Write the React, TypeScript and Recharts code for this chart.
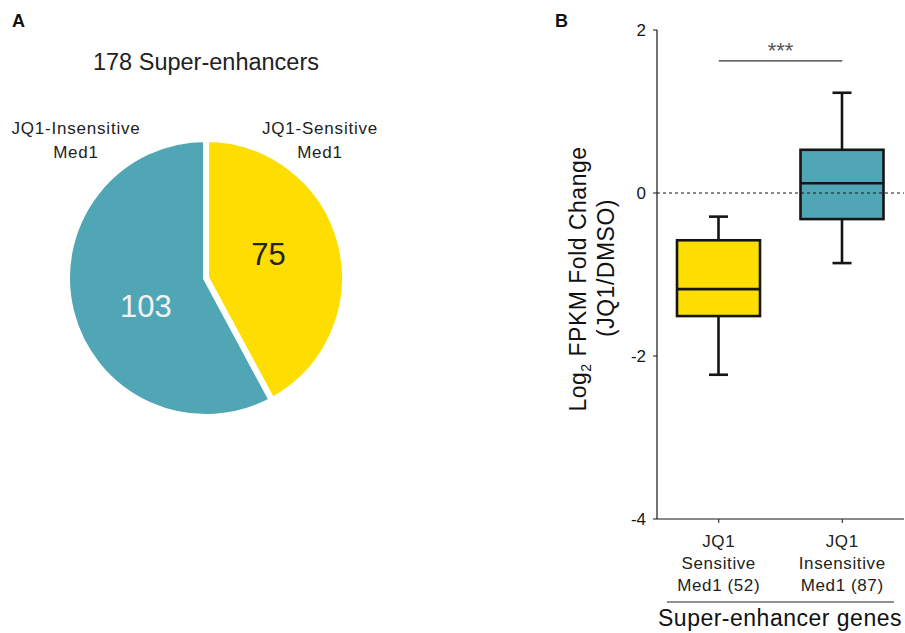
import React from 'react';
import { PieChart, Pie, Cell, ComposedChart, Bar, XAxis, YAxis, ReferenceLine } from 'recharts';

// Panel A: super-enhancer counts
const pieNames = ['JQ1-Sensitive Med1', 'JQ1-Insensitive Med1'];
const pieCounts = [75, 103];
const pieColors = ['#FEDD00', '#50A6B5'];
const pieLabelColors = ['#222222', '#f2f2f2'];
// nudge of each count label away from the slice's mid angle (degrees)
const pieLabelTurn = [6.5, 11.5];

// Panel B: log2 fold change distribution per gene group
const groupNames = ['JQ1 Sensitive Med1 (52)', 'JQ1 Insensitive Med1 (87)'];
const groupTickLines = [
  ['JQ1', 'Sensitive', 'Med1 (52)'],
  ['JQ1', 'Insensitive', 'Med1 (87)'],
];
const whiskerLow = [-2.23, -0.86];
const quartile1 = [-1.51, -0.32];
const medians = [-1.18, 0.12];
const quartile3 = [-0.58, 0.53];
const whiskerHigh = [-0.29, 1.23];
const boxColors = ['#FEDD00', '#50A6B5'];
const yTicks = [-4, -2, 0, 2];
const significanceLevel = 1.62;

const FONT = '"Liberation Sans", Arial, Helvetica, sans-serif';
const INK = '#151515';

const pieData = pieNames.map((name, i) => ({ name, value: pieCounts[i] }));

const boxData = groupNames.map((name, i) => ({
  name,
  range: [quartile1[i], quartile3[i]],
  lo: whiskerLow[i],
  q1: quartile1[i],
  med: medians[i],
  q3: quartile3[i],
  hi: whiskerHigh[i],
  color: boxColors[i],
}));

const RADIAN = Math.PI / 180;

const renderPieLabel = (props: any) => {
  const { cx, cy, midAngle, outerRadius, index, value } = props;
  const r = outerRadius * 0.48;
  const a = (midAngle + pieLabelTurn[index]) * RADIAN;
  const x = cx + r * Math.cos(-a);
  const y = cy + r * Math.sin(-a);
  return (
    <text
      x={x}
      y={y}
      textAnchor="middle"
      dominantBaseline="central"
      fontSize={31}
      fontFamily={FONT}
      fill={pieLabelColors[index]}
    >
      {value}
    </text>
  );
};

// draws whiskers, box and median using the bar's own pixel scale
const BoxShape = (props: any) => {
  const { x, y, width, height, payload } = props;
  const top = Math.min(y, y + height);
  const h = Math.abs(height);
  const perUnit = h / (payload.q3 - payload.q1);
  const toY = (v: number) => top + (payload.q3 - v) * perUnit;
  const cx = x + width / 2;
  const cap = 9.5;
  const sw = 2.6;
  return (
    <g>
      <line x1={cx} x2={cx} y1={toY(payload.hi)} y2={top} stroke={INK} strokeWidth={sw} />
      <line x1={cx} x2={cx} y1={top + h} y2={toY(payload.lo)} stroke={INK} strokeWidth={sw} />
      <line x1={cx - cap} x2={cx + cap} y1={toY(payload.hi)} y2={toY(payload.hi)} stroke={INK} strokeWidth={sw} />
      <line x1={cx - cap} x2={cx + cap} y1={toY(payload.lo)} y2={toY(payload.lo)} stroke={INK} strokeWidth={sw} />
      <rect x={x} y={top} width={width} height={h} fill={payload.color} stroke={INK} strokeWidth={sw} />
      <line x1={x} x2={x + width} y1={toY(payload.med)} y2={toY(payload.med)} stroke={INK} strokeWidth={sw} />
    </g>
  );
};

const GroupTick = (props: any) => {
  const { x, y, payload } = props;
  const idx = groupNames.indexOf(payload.value);
  const lines = groupTickLines[idx] || [];
  return (
    <text x={x} y={y} textAnchor="middle" fontSize={17} letterSpacing={0.6} fontFamily={FONT} fill="#222">
      {lines.map((l, i) => (
        <tspan key={i} x={x} dy={i === 0 ? 24 : 22}>
          {l}
        </tspan>
      ))}
    </text>
  );
};

export default function App() {
  return (
    <div style={{ position: 'absolute', left: 0, top: 0, width: 905, height: 633, background: '#fff', fontFamily: FONT }}>
      <div style={{ position: 'absolute', left: 0, top: 0 }}>
        <PieChart width={540} height={633} margin={{ top: 0, right: 0, bottom: 0, left: 0 }}>
          <Pie
            data={pieData}
            dataKey="value"
            nameKey="name"
            cx={206}
            cy={278}
            outerRadius={139}
            startAngle={90}
            endAngle={-270}
            stroke="#ffffff"
            strokeWidth={6}
            label={renderPieLabel}
            labelLine={false}
            isAnimationActive={false}
          >
            {pieData.map((d, i) => (
              <Cell key={d.name} fill={pieColors[i]} />
            ))}
          </Pie>
        </PieChart>
      </div>

      <div style={{ position: 'absolute', left: 540, top: 0 }}>
        <ComposedChart
          width={365}
          height={633}
          data={boxData}
          margin={{ top: 30, right: 1, bottom: 0, left: 0 }}
        >
          <XAxis
            dataKey="name"
            type="category"
            height={114}
            axisLine={{ stroke: INK, strokeWidth: 1.2 }}
            tickLine={{ stroke: INK }}
            tickSize={4}
            tickMargin={0}
            tick={<GroupTick />}
            interval={0}
          />
          <YAxis
            type="number"
            domain={[-4, 2]}
            ticks={yTicks}
            width={117}
            axisLine={{ stroke: INK, strokeWidth: 1.2 }}
            tickLine={{ stroke: INK }}
            tickSize={4}
            tickMargin={7}
            tick={{ fontSize: 17, fill: INK, fontFamily: FONT }}
            allowDataOverflow
          />
          <ReferenceLine y={0} stroke={INK} strokeDasharray="3 3" strokeWidth={1} />
          <Bar dataKey="range" barSize={83} shape={<BoxShape />} isAnimationActive={false} />
          <ReferenceLine
            segment={[
              { x: groupNames[0], y: significanceLevel },
              { x: groupNames[1], y: significanceLevel },
            ]}
            stroke="#333"
            strokeWidth={1.2}
            label={{ value: '***', position: 'top', offset: 3, fill: '#555', fontSize: 22, fontFamily: FONT }}
          />
        </ComposedChart>
      </div>

      <svg width={905} height={633} style={{ position: 'absolute', left: 0, top: 0, pointerEvents: 'none' }} fontFamily={FONT}>
        <text x={12} y={27} fontSize={18} fontWeight="bold" fill="#111">A</text>
        <text x={555} y={27} fontSize={18} fontWeight="bold" fill="#111">B</text>

        <text x={206} y={70} textAnchor="middle" fontSize={23.5} fill="#222">178 Super-enhancers</text>
        <text x={76} y={134} textAnchor="middle" fontSize={17} letterSpacing={0.8} fill="#222">
          <tspan x={76}>JQ1-Insensitive</tspan>
          <tspan x={76} dy={24}>Med1</tspan>
        </text>
        <text x={320} y={134} textAnchor="middle" fontSize={17} letterSpacing={0.8} fill="#222">
          <tspan x={320}>JQ1-Sensitive</tspan>
          <tspan x={320} dy={24}>Med1</tspan>
        </text>

        <text x={586} y={279} textAnchor="middle" fontSize={23} letterSpacing={0.5} fill="#111" transform="rotate(-90, 586, 279)">
          <tspan>Log</tspan>
          <tspan fontSize={14} dy={5}>2</tspan>
          <tspan dy={-5}> FPKM Fold Change</tspan>
        </text>
        <text x={614} y={268} textAnchor="middle" fontSize={23} letterSpacing={0.5} fill="#111" transform="rotate(-90, 614, 268)">
          (JQ1/DMSO)
        </text>

        <line x1={667} x2={894} y1={602} y2={602} stroke="#222" strokeWidth={1.2} />
        <text x={780} y={626} textAnchor="middle" fontSize={23} letterSpacing={0.5} fill="#111">Super-enhancer genes</text>
      </svg>
    </div>
  );
}
